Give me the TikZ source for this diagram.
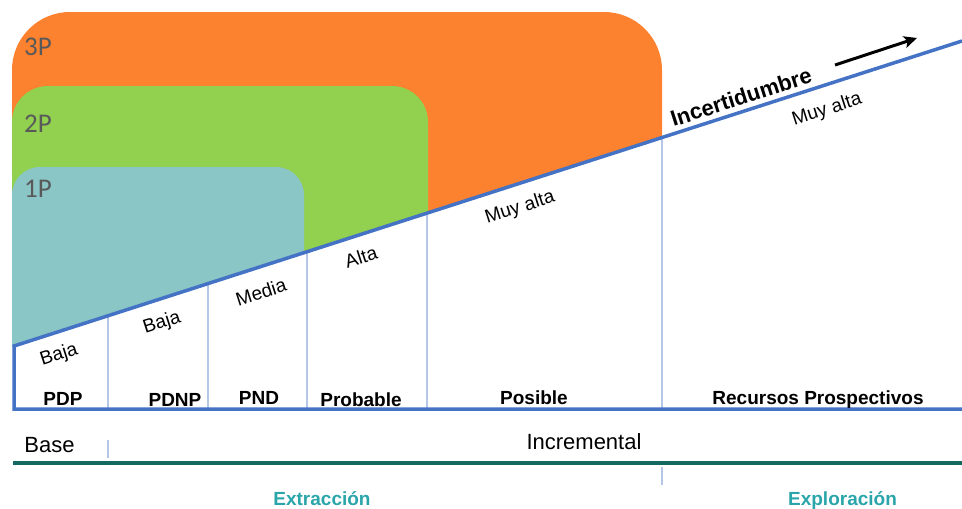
\documentclass[tikz,border=0pt]{standalone}
\usepackage{fontspec}
\setmainfont{Liberation Sans}
\newfontfamily\calib{Carlito}
\usetikzlibrary{arrows.meta}
\definecolor{orangeP}{HTML}{FD822F}
\definecolor{greenP}{HTML}{92D050}
\definecolor{tealP}{HTML}{8AC6C6}
\definecolor{lineblue}{HTML}{4472C4}
\definecolor{divblue}{HTML}{B4C7E7}
\definecolor{darkteal}{HTML}{136860}
\definecolor{phasetxt}{HTML}{2AA5AA}
\definecolor{lvlgray}{HTML}{595959}
\begin{document}
\begin{tikzpicture}[x=1pt,y=-1pt,
  lvl/.style={font=\calib\fontsize{27}{30}\selectfont, text=lvlgray, inner sep=0, anchor=base west},
  slant/.style={font=\fontsize{19}{22}\selectfont, rotate=17.8, inner sep=0},
  cat/.style={font=\bfseries\fontsize{19}{22}\selectfont, anchor=base, inner sep=0},
  plain/.style={font=\fontsize{22}{25}\selectfont, anchor=base, inner sep=0},
  phase/.style={font=\bfseries\fontsize{19}{22}\selectfont, text=phasetxt, anchor=base, inner sep=0},
  divider/.style={draw=divblue, line width=1.5pt},
  frame/.style={draw=lineblue, line width=3.5pt, line join=miter}]
\useasboundingbox (0,0) rectangle (962,509);

% reserve bands, cut off below the uncertainty line
\begin{scope}
  \clip (0,0) -- (0,350) -- (14,346) -- (962,41) -- (962,0) -- cycle;
  \fill[orangeP, rounded corners=58pt] (12,12) rectangle (662,420);
  \fill[greenP, rounded corners=36pt] (12,86) rectangle (428,420);
  \fill[tealP, rounded corners=28pt] (12,167) rectangle (304,420);
\end{scope}

\node[lvl] (p3) at (24,55) {3P};
\node[lvl] (p2) at (24,132) {2P};
\node[lvl] (p1) at (24,197) {1P};

% column corners on the uncertainty line and on the floor
\coordinate (s0) at (14,346);
\coordinate (s1) at (108,315.5);
\coordinate (s2) at (208,283.3);
\coordinate (s3) at (307,251.5);
\coordinate (s4) at (427,212.9);
\coordinate (s5) at (662,137.3);
\coordinate (send) at (962,41);
\coordinate (f0) at (14,409);
\coordinate (f1) at (108,409);
\coordinate (f2) at (208,409);
\coordinate (f3) at (307,409);
\coordinate (f4) at (427,409);
\coordinate (f5) at (662,409);
\coordinate (fend) at (962,409);

\foreach \i in {1,...,5} \draw[divider] (s\i) -- (f\i);
\draw[frame] (send) -- (s0) -- (f0) -- (fend);

% uncertainty levels
\node[slant] (u1) at (59,355) {Baja};
\node[slant] (u2) at (162,323) {Baja};
\node[slant] (u3) at (261,292) {Media};
\node[slant] (u4) at (361,257) {Alta};
\node[slant] (u5) at (520,208) {Muy alta};
\node[slant] (u6) at (827,110) {Muy alta};
\node[slant, font=\bfseries\fontsize{22}{25}\selectfont] (inc) at (741,97) {Incertidumbre};

\coordinate (a0) at (835,65);
\coordinate (a1) at (917,38);
\draw[line width=3pt, -{Stealth[length=13pt, width=12pt, inset=3pt]}] (a0) -- (a1);

% categories
\node[cat] (c1) at (63,405.5) {PDP};
\node[cat] (c2) at (175,406) {PDNP};
\node[cat] (c3) at (259,404) {PND};
\node[cat] (c4) at (361,406) {Probable};
\node[cat] (c5) at (534,404) {Posible};
\node[cat] (c6) at (818,404.5) {Recursos Prospectivos};

% base / incremental band
\node[plain] (base) at (49.5,452) {Base};
\node[plain] (incr) at (584,449) {Incremental};
\coordinate (b0) at (108,440);
\coordinate (b1) at (108,458);
\draw[divider] (b0) -- (b1);
\coordinate (t0) at (13,463);
\coordinate (t1) at (962,463);
\draw[darkteal, line width=4pt] (t0) -- (t1);

% phases
\coordinate (e0) at (662,467);
\coordinate (e1) at (662,485);
\draw[divider] (e0) -- (e1);
\node[phase] (ext) at (322,505) {Extracción};
\node[phase] (exp) at (842.5,505) {Exploración};
\end{tikzpicture}
\end{document}
